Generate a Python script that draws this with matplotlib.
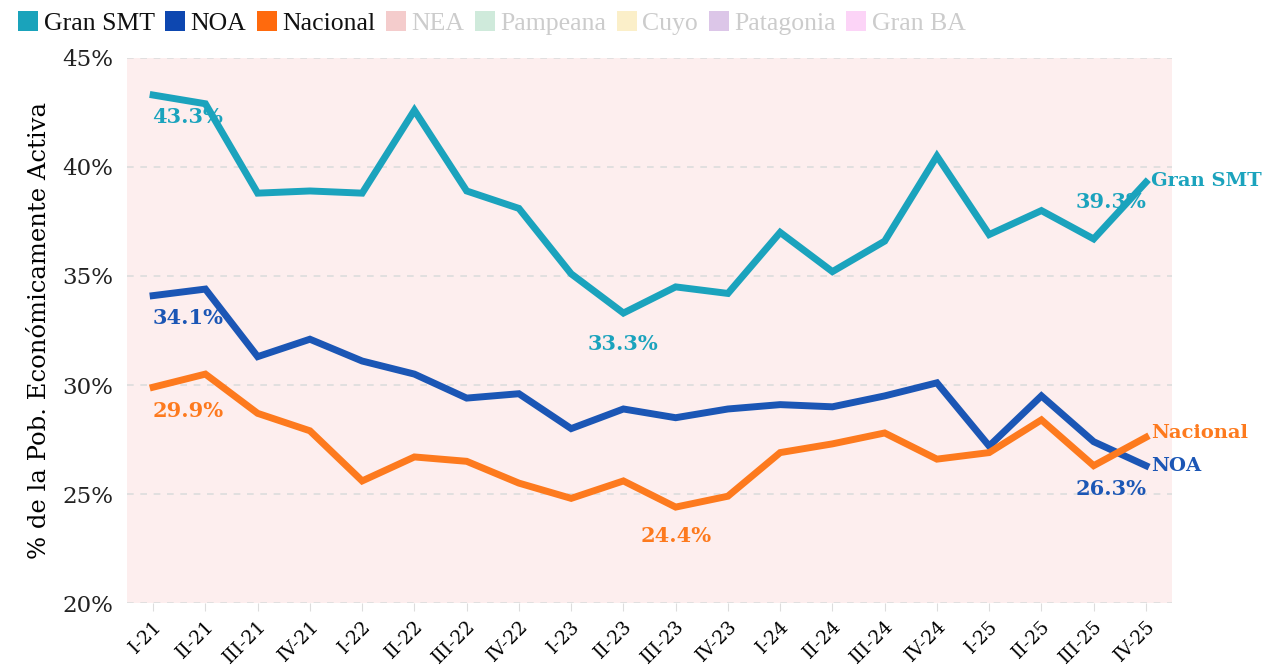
import numpy as np
import matplotlib
matplotlib.use("Agg")
import matplotlib.pyplot as plt
from matplotlib.lines import Line2D

# quarters
quarters = ["I-21", "II-21", "III-21", "IV-21", "I-22", "II-22", "III-22", "IV-22",
            "I-23", "II-23", "III-23", "IV-23", "I-24", "II-24", "III-24", "IV-24",
            "I-25", "II-25", "III-25", "IV-25"]

gran_smt = [43.3, 42.9, 38.8, 38.9, 38.8, 42.6, 38.9, 38.1, 35.1, 33.3,
            34.5, 34.2, 37.0, 35.2, 36.6, 40.5, 36.9, 38.0, 36.7, 39.3]
noa = [34.1, 34.4, 31.3, 32.1, 31.1, 30.5, 29.4, 29.6, 28.0, 28.9,
       28.5, 28.9, 29.1, 29.0, 29.5, 30.1, 27.2, 29.5, 27.4, 26.3]
nacional = [29.9, 30.5, 28.7, 27.9, 25.6, 26.7, 26.5, 25.5, 24.8, 25.6,
            24.4, 24.9, 26.9, 27.3, 27.8, 26.6, 26.9, 28.4, 26.3, 27.6]

legend_names = ["Gran SMT", "NOA", "Nacional", "NEA", "Pampeana", "Cuyo", "Patagonia", "Gran BA"]
legend_colors = ["#1aa3bb", "#0d47b0", "#ff6a0d", "#f4cccc", "#cfeadb", "#fbefc9", "#dcc6e8", "#fcd4f7"]

c_smt = "#1ba3bd"
c_noa = "#1b56b5"
c_nac = "#fd7a1e"

serif = "DejaVu Serif"

fig = plt.figure(figsize=(12.69, 6.71), dpi=100)
ax = fig.add_axes([0.1001, 0.1013, 0.8235, 0.8123])
ax.set_facecolor("#fdeeee")

x = np.arange(len(quarters))
ax.plot(x, gran_smt, color=c_smt, lw=5, solid_joinstyle="miter", zorder=3)
ax.plot(x, noa, color=c_noa, lw=5, solid_joinstyle="miter", zorder=3)
ax.plot(x, nacional, color=c_nac, lw=5, solid_joinstyle="miter", zorder=3)

ax.set_xlim(-0.5, len(quarters) - 0.5)
ax.set_ylim(20, 45)
ax.set_yticks([20, 25, 30, 35, 40, 45])
ax.set_yticklabels([f"{v}%" for v in [20, 25, 30, 35, 40, 45]], fontsize=16.5, fontfamily=serif, color="#222222")
ax.set_xticks(x)
ax.set_xticklabels(quarters, rotation=45, ha="right", rotation_mode="anchor", fontsize=13.5, fontfamily=serif)
ax.tick_params(axis="y", length=0, pad=10)
ax.tick_params(axis="x", length=6, color="#dddddd", pad=4)
ax.grid(axis="y", color="#dcdcdc", ls=(0, (4, 4)), lw=1.2)
for s in ["top", "right", "left", "bottom"]:
    ax.spines[s].set_visible(False)
ax.set_ylabel("% de la Pob. Económicamente Activa", fontsize=17.5, fontfamily=serif, labelpad=8)

bold = dict(fontsize=15, fontweight="bold", fontfamily=serif)
def lab(xi, yi, txt, col, dx, dy, ha="center", size=15):
    ax.annotate(txt, (xi, yi), xytext=(dx, dy), textcoords="offset points",
                ha=ha, va="center", color=col, zorder=4,
                fontsize=size, fontweight="bold", fontfamily=serif)

lab(0, gran_smt[0], "43.3%", c_smt, 25, -16)
lab(0, noa[0], "34.1%", c_noa, 25, -16)
lab(0, nacional[0], "29.9%", c_nac, 25, -17)
lab(9, gran_smt[9], "33.3%", c_smt, 0, -22)
lab(10, nacional[10], "24.4%", c_nac, 0, -21)
lab(19, gran_smt[19], "39.3%", c_smt, -25, -14)
lab(19, noa[19], "26.3%", c_noa, -25, -17)
lab(19, gran_smt[19], "Gran SMT", c_smt, 4, 1, ha="left", size=14)
lab(19, nacional[19], "Nacional", c_nac, 4, 3, ha="left", size=14)
lab(19, noa[19], "NOA", c_noa, 4, 0, ha="left", size=14)

handles = [Line2D([], [], marker="s", ls="none", markersize=14, color=c, markeredgewidth=0)
           for c in legend_colors]
leg = fig.legend(handles, legend_names, loc="upper left", bbox_to_anchor=(-0.003, 1.016), ncol=8,
                 frameon=False, handlelength=0.7, handletextpad=0.25, columnspacing=0.45,
                 prop={"family": "Liberation Serif", "size": 18.5})
for i, t in enumerate(leg.get_texts()):
    t.set_color("#111111" if i < 3 else "#cccccc")

fig.savefig("out.png", dpi=100)
